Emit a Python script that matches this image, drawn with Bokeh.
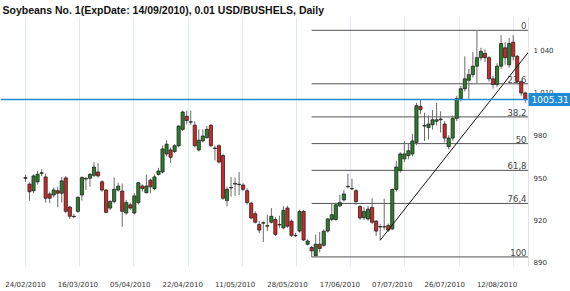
from bokeh.plotting import figure
from bokeh.models import FixedTicker, Span, Label, ColumnDataSource, Range1d
from bokeh.embed import file_html
from bokeh.resources import INLINE
from bokeh.core.properties import value

title_text = "Soybeans  No. 1(ExpDate: 14/09/2010), 0.01 USD/BUSHELS, Daily"
date_labels = ["24/02/2010", "16/03/2010", "05/04/2010", "22/04/2010", "11/05/2010",
               "28/05/2010", "17/06/2010", "07/07/2010", "26/07/2010", "12/08/2010"]
label_every = 13
price_ticks = [890, 920, 950, 980, 1010, 1040]

opens = [950, 945.4, 940.7, 947, 953, 950.5, 938.4, 937.7, 940.7, 938.9,
         949.8, 929.1, 922.6, 926.1, 937.7, 949.3, 949.6, 951.6, 954, 947,
         941.2, 928.4, 933, 941.2, 940.5, 924.9, 930.7, 924.9, 932.3, 944,
         939.3, 948.2, 942.3, 952.3, 954, 966.8, 969.6, 968.6, 972.6, 984.2,
         993.5, 989.6, 987.2, 969.6, 976, 978.4, 987, 971, 972.6, 965.6,
         933.7, 943, 945.4, 945, 944.7, 940.7, 931.9, 924.4, 916.8, 918,
         915.6, 918.4, 920.3, 916.8, 914.4, 928.4, 919.1, 909.1, 912.1, 926,
         902.8, 900.5, 894.7, 902.8, 902, 912.1, 920.3, 920.3, 930, 934.2,
         943.5, 942.3, 940.7, 929.5, 921.5, 920.7, 928.9, 919.1, 915, 915,
         916, 913.7, 941.6, 955, 963.3, 965.6, 966.8, 975, 1000.5, 987,
         985.5, 987.5, 990, 991, 988, 972, 978, 992, 1006, 1013,
         1019, 1023, 1029, 1035, 1038, 1035, 1020, 1016, 1029, 1042,
         1030, 1046, 1036, 1018, 1010]
closes = [949.5, 940, 951.2, 952.4, 953.5, 935.4, 935.4, 941.2, 938.9, 947.7,
          926.1, 922.6, 922.3, 936.1, 950, 949, 952.3, 957.5, 951.2, 941.2,
          925.4, 933, 941.7, 944, 926.1, 932.3, 928.4, 937, 946.3, 942.3,
          944, 943.5, 950.5, 954.7, 970.3, 973.7, 964.4, 972.6, 986.5, 996.5,
          990.5, 989.3, 972.6, 976.5, 979.5, 984.2, 972.6, 970.6, 961, 935.4,
          941.7, 942.7, 945.9, 945.3, 941.7, 932.3, 921.4, 918.4, 912.8, 917.7,
          915.9, 922.6, 909.8, 916.5, 926.8, 915.6, 909.1, 908.8, 926, 905.8,
          905.1, 898.1, 902.8, 899.8, 912, 920.7, 923.7, 930.7, 932.3, 938.4,
          943.8, 942, 933, 921.4, 926, 927.7, 918.4, 912.1, 915.3, 915.2,
          912.8, 941.6, 957.5, 966.8, 966.8, 969, 976, 1001, 998.2, 986.5,
          988, 991, 991, 991.5, 978, 978, 992, 1006, 1013, 1020,
          1023, 1029, 1035, 1039.5, 1035, 1020, 1016, 1029, 1045, 1035,
          1045, 1036, 1018, 1010, 1005.31]
highs = [952, 946.5, 952.4, 954.7, 956, 952.8, 940, 943, 943.5, 950.5,
         951, 930, 924.4, 936.6, 951, 950.5, 953.3, 961, 960.3, 948.2,
         942, 934.2, 950, 946.3, 945.8, 934.2, 932.3, 938.9, 947, 945.4,
         952.1, 949.3, 952.3, 957, 972.6, 976.5, 971.4, 973.7, 987.2, 997.5,
         997.5, 997.5, 990, 984.2, 984.2, 986.5, 988, 972.6, 973.7, 966.8,
         943.5, 950.5, 950, 954, 946, 942.3, 933, 926.1, 919.1, 919.1,
         923.7, 928.4, 922.1, 923, 929.6, 930, 920.3, 910.9, 927.2, 927,
         906.3, 901.5, 909.6, 911.4, 913.3, 921.4, 931.9, 931.9, 937.7, 941.2,
         952.8, 949.3, 942, 930.5, 929, 930, 935.4, 920, 917, 935,
         917.5, 942.3, 962, 968, 976, 974, 981, 1003, 1005.3, 996,
         994, 998, 1003, 997, 990, 980, 994, 1008, 1015, 1036,
         1027, 1039, 1054.4, 1042, 1041, 1036, 1022, 1031, 1051, 1046,
         1049, 1051, 1037, 1019, 1011]
lows = [947, 933.7, 939, 945, 951, 932.3, 931.9, 936, 929, 932.3,
        924.9, 920.7, 921.4, 925, 933.7, 941.2, 943.5, 950.5, 950, 940,
        924.5, 927, 931.9, 940, 915.1, 923.8, 927, 924, 931, 940,
        938.9, 938.9, 941, 951.5, 953, 965, 960.3, 967.5, 971.5, 983,
        987.7, 987.2, 971.5, 968.5, 975, 977.5, 971.5, 962.1, 960, 934.3,
        929.6, 936.5, 937, 937.7, 940.5, 931, 920.3, 917.5, 910.5, 904.4,
        912.1, 917.5, 908.6, 914.4, 913.3, 914.4, 908, 908, 911, 905,
        902, 893.8, 894.2, 897, 901, 911, 919, 919.5, 929, 933,
        942.3, 941, 930.7, 920, 920, 919.5, 917, 908.6, 905.6, 913,
        911.5, 912.8, 940, 953.5, 961, 963, 965, 973, 995, 976,
        977, 984, 987, 982, 975, 970, 976, 990, 1004, 1011,
        1006, 1021, 1017, 1033, 1032, 1018, 1013, 1014, 1027, 1030,
        1028, 1033, 1016, 1008, 1003]

last_price = 1005.31
fib_low_idx = 71
fib_low = 893.8
fib_high = 1054.4
fib_levels = [0, 23.6, 38.2, 50, 61.8, 76.4, 100]
trend_idx = [88, 126]
trend_price = [905.6, 1043.3]

n = len(opens)
idx = list(range(n))

W, H = 570, 291
panel_px = 528                     # width of the price panel (rest is the price scale)
x_start, chart_end = -6.2, 124.8   # visible candle-index span of the price panel
x_full_end = x_start + (chart_end - x_start) * W / panel_px
y_start, y_end = 887.0, 1064.2

GREEN = "#2a7f2a"
RED = "#d42626"
BLUE = "#1f8ad6"
TXT = "#333333"

p = figure(width=W, height=H, output_backend="svg", toolbar_location=None,
           x_range=Range1d(x_start, x_full_end), y_range=Range1d(y_start, y_end),
           y_axis_location=None, min_border_left=0, min_border_right=0,
           min_border_bottom=20, min_border_top=0)
p.outline_line_color = None
p.background_fill_color = "white"
p.border_fill_color = "white"

p.title.text = title_text
p.title.text_font = "Liberation Sans"
p.title.text_font_style = "bold"
p.title.text_font_size = "10.5px"
p.title.text_color = "#111111"
p.title.offset = 2
p.title.standoff = 2

# grid
p.ygrid.grid_line_color = None
p.xgrid.ticker = FixedTicker(ticks=[k * 13.45 for k in range(10)])
p.xgrid.grid_line_color = "#e1e9f0"

# x axis (dates)
xa = p.xaxis[0]
xa.ticker = FixedTicker(ticks=[k * label_every for k in range(len(date_labels))])
xa.major_label_overrides = {k * label_every: d for k, d in enumerate(date_labels)}
xa.axis_line_color = None
xa.major_tick_line_color = None
xa.minor_tick_line_color = None
xa.major_label_standoff = 8
xa.major_label_text_font = "DejaVu Sans"
xa.major_label_text_font_size = "7px"
xa.major_label_text_color = TXT

# price scale on the right of the panel
p.add_layout(Span(location=chart_end, dimension="height", line_color="#e2e2e2", line_width=1))
tsrc = ColumnDataSource(dict(
    x=[chart_end] * len(price_ticks), y=price_ticks,
    t=[f"{t:,}".replace(",", " ") for t in price_ticks]))
p.text(x="x", y="y", text="t", source=tsrc, text_align="left", text_baseline="middle",
       x_offset=5, text_font=value("DejaVu Sans"), text_font_size="7px", text_color=TXT)

# fibonacci lines
fib_prices = [fib_high - (fib_high - fib_low) * lv / 100 for lv in fib_levels]
fib_text = [(f"{lv:g}").replace(".", ",") for lv in fib_levels]
fsrc = ColumnDataSource(dict(x0=[fib_low_idx] * len(fib_levels), x1=[chart_end] * len(fib_levels),
                             y=fib_prices, t=fib_text))
p.segment(x0="x0", y0="y", x1="x1", y1="y", source=fsrc, line_color="#555555", line_width=1)
p.text(x="x1", y="y", text="t", source=fsrc, text_align="right", text_baseline="bottom",
       x_offset=-2, y_offset=-1, text_font=value("DejaVu Sans"), text_font_size="8.5px",
       text_color="#444444")

# candles
inc = [c >= o for o, c in zip(opens, closes)]
src = ColumnDataSource(dict(
    x=idx, top=[max(o, c) for o, c in zip(opens, closes)],
    bottom=[min(o, c) for o, c in zip(opens, closes)],
    high=highs, low=lows,
    color=[GREEN if u else RED for u in inc]))
p.segment(x0="x", y0="low", x1="x", y1="high", source=src, line_color="#6a6a6a", line_width=1)
p.vbar(x="x", top="top", bottom="bottom", width=0.78, source=src,
       fill_color="color", line_color="#222222", line_width=0.8)

# trend line (clipped at the panel edge)
tx1 = chart_end
ty1 = trend_price[0] + (trend_price[1] - trend_price[0]) * (tx1 - trend_idx[0]) / (trend_idx[1] - trend_idx[0])
p.line([trend_idx[0], tx1], [trend_price[0], ty1], line_color="#111111", line_width=1)

# last price line and label
p.segment(x0=[x_start], y0=[last_price], x1=[chart_end], y1=[last_price],
          line_color=BLUE, line_width=1.5)
p.add_layout(Label(x=chart_end, y=last_price, text=f"{last_price:.2f}", text_align="left",
                   text_baseline="middle", x_offset=0, text_color="white",
                   text_font="DejaVu Sans", text_font_size="9px",
                   background_fill_color=BLUE, padding=3))

open("out.html", "w").write(file_html(p, INLINE))
